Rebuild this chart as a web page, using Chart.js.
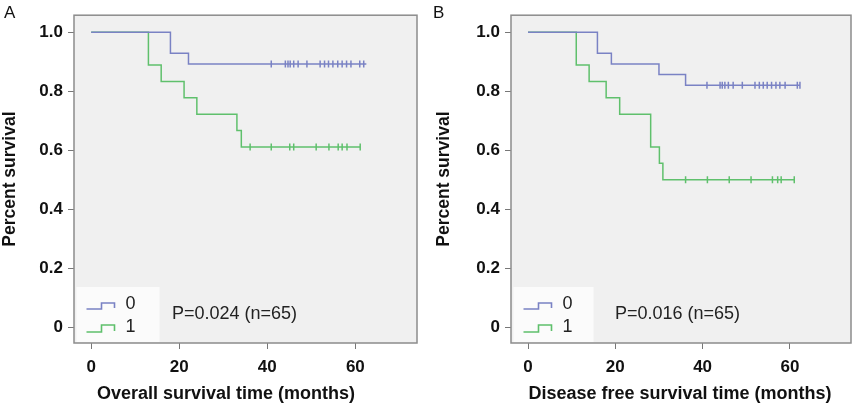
<!DOCTYPE html>
<html>
<head>
<meta charset="UTF-8" />
<title>Survival curves</title>
<script src="https://cdn.jsdelivr.net/npm/chart.js"></script>
<style>
  body { margin: 0; background: #fff; }
  .wrap { position: relative; width: 858px; height: 406px; }
  .panel { position: absolute; top: 0; width: 429px; height: 406px; }
  .tag { position: absolute; top: 3px; font: 17px "Liberation Sans", Arial, sans-serif; color: #111; }
</style>
</head>
<body>
<div class="wrap">
  <div class="panel" style="left:0"><canvas id="chartA" width="429" height="406"></canvas></div>
  <div class="panel" style="left:429px"><canvas id="chartB" width="429" height="406"></canvas></div>
  <div class="tag" style="left:4px">A</div>
  <div class="tag" style="left:433px">B</div>
</div>
<script>
// overall survival (A)
const osTime0 = [0, 18, 22.1, 62.5];
const osSurv0 = [1, 0.929, 0.893, 0.893];
const osCens0 = [40.9, 44.1, 44.7, 45.2, 46.0, 47.0, 49.0, 52.0, 53.0, 53.9, 54.9, 56.0, 57.0, 58.0, 59.0, 61.0, 61.9];
const osTime1 = [0, 13, 15.9, 21.1, 24, 33.1, 34.1, 61.1];
const osSurv1 = [1, 0.889, 0.833, 0.778, 0.722, 0.667, 0.611, 0.611];
const osCens1 = [36.1, 40.9, 45.1, 46.0, 51.1, 54.0, 56.1, 57.0, 58.1, 61.1];

// disease free survival (B)
const dfsTime0 = [0, 15.9, 19.1, 30.0, 36.1, 62.3];
const dfsSurv0 = [1, 0.929, 0.893, 0.857, 0.821, 0.821];
const dfsCens0 = [41.0, 44.0, 44.5, 45.1, 45.9, 47.0, 49.1, 52.0, 53.0, 53.9, 54.8, 55.8, 56.8, 57.7, 58.9, 61.7, 62.3];
const dfsTime1 = [0, 11.05, 14.0, 17.9, 21.0, 28.1, 30.1, 30.9, 61.0];
const dfsSurv1 = [1, 0.889, 0.833, 0.778, 0.722, 0.611, 0.556, 0.5, 0.5];
const dfsCens1 = [36.1, 41.1, 46.1, 51.1, 56.0, 57.2, 58.0, 61.0];

const groupLabels = ["0", "1"];
const xTickValues = [0, 20, 40, 60];
const yTickValues = [0, 0.2, 0.4, 0.6, 0.8, 1.0];
const yTickLabels = ["0", "0.2", "0.4", "0.6", "0.8", "1.0"];

const BLUE = "#7a82c4";
const GREEN = "#5fc06c";
const FONT = '"Liberation Sans", Arial, sans-serif';
Chart.defaults.font.family = FONT;
Chart.defaults.color = "#111";

function survAt(times, surv, t) {
  let s = surv[0];
  for (let i = 0; i < times.length; i++) if (times[i] <= t) s = surv[i];
  return s;
}

function curve(times, surv, color) {
  return {
    type: "line",
    data: times.map((t, i) => ({ x: t, y: surv[i] })),
    stepped: true,
    borderColor: color,
    borderWidth: 1.5,
    pointRadius: 0,
    fill: false,
  };
}

function censor(times, surv, cens, color) {
  return {
    type: "scatter",
    data: cens.map((t) => ({ x: t, y: survAt(times, surv, t) })),
    pointStyle: "line",
    rotation: 90,
    pointRadius: 3.5,
    borderColor: color,
    borderWidth: 1.5,
    showLine: false,
  };
}

// background, frame, legend box and p-value text
const panelPlugin = {
  id: "panel",
  beforeDatasetsDraw(chart, args, o) {
    const { ctx, chartArea: a } = chart;
    ctx.save();
    ctx.fillStyle = "#fbfbfb";
    const bx = a.left + 2.5, by = a.bottom - 56;
    ctx.fillRect(bx, by, o.boxW, 55);
    // step icons
    [[BLUE, by + 22, by + 16], [GREEN, by + 45, by + 38]].forEach(([c, lo, hi]) => {
      ctx.strokeStyle = c;
      ctx.lineWidth = 1.6;
      ctx.beginPath();
      ctx.moveTo(bx + 10, lo);
      ctx.lineTo(bx + 25, lo);
      ctx.lineTo(bx + 25, hi);
      ctx.lineTo(bx + 38, hi);
      ctx.lineTo(bx + 38, lo - 1);
      ctx.stroke();
    });
    ctx.fillStyle = "#222";
    ctx.font = "18px " + FONT;
    ctx.textBaseline = "middle";
    ctx.textAlign = "left";
    ctx.fillText(groupLabels[0], bx + 49, by + 17);
    ctx.fillText(groupLabels[1], bx + 49, by + 40);
    ctx.fillText(o.pText, o.pX, by + 27);
    ctx.restore();
  },
  beforeDraw(chart) {
    const { ctx, chartArea: a } = chart;
    ctx.save();
    ctx.fillStyle = "#f0f0f0";
    ctx.fillRect(a.left, a.top, a.width, a.height);
    ctx.restore();
  },
  afterDraw(chart, args, o) {
    const { ctx, chartArea: a } = chart;
    ctx.save();
    ctx.strokeStyle = "#8c8c8c";
    ctx.lineWidth = 1.5;
    ctx.strokeRect(a.left, a.top, a.width, a.height);
    ctx.fillStyle = "#111";
    ctx.font = "bold 18px " + FONT;
    ctx.textAlign = "center";
    ctx.textBaseline = "middle";
    ctx.fillText(o.xTitle, o.xTitleX, 394);
    ctx.restore();
  },
};

function makeChart(id, sets, opt) {
  return new Chart(document.getElementById(id), {
    data: { datasets: sets },
    plugins: [panelPlugin],
    options: {
      responsive: false,
      animation: false,
      layout: { padding: { left: opt.padLeft, right: opt.padRight, top: opt.padTop, bottom: 0 } },
      plugins: {
        legend: { display: false },
        tooltip: { enabled: false },
        panel: { boxW: opt.boxW, pText: opt.pText, pX: opt.pX, xTitle: opt.xTitle, xTitleX: opt.xTitleX },
      },
      scales: {
        x: {
          type: "linear",
          min: -3.9,
          max: 74,
          afterBuildTicks: (s) => { s.ticks = xTickValues.map((v) => ({ value: v })); },
          afterFit: (s) => { s.height = opt.xHeight; },
          ticks: { padding: 8, font: { size: 17, weight: "bold" }, color: "#111" },
          grid: { drawOnChartArea: false, tickLength: 6, color: "#777" },
          border: { display: false },
        },
        y: {
          type: "linear",
          min: -0.053,
          max: 1.058,
          afterBuildTicks: (s) => { s.ticks = yTickValues.map((v) => ({ value: v })); },
          afterFit: (s) => { s.width = opt.yWidth; },
          ticks: {
            padding: 5,
            font: { size: 17, weight: "bold" },
            color: "#111",
            callback: (v, i) => yTickLabels[i],
          },
          grid: { drawOnChartArea: false, tickLength: 6, color: "#777" },
          border: { display: false },
          title: {
            display: true,
            text: "Percent survival",
            font: { size: 17.5, weight: "bold" },
            color: "#111",
            padding: 0,
          },
        },
      },
    },
  });
}

makeChart("chartA", [
  curve(osTime0, osSurv0, BLUE),
  curve(osTime1, osSurv1, GREEN),
  censor(osTime0, osSurv0, osCens0, BLUE),
  censor(osTime1, osSurv1, osCens1, GREEN),
], {
  padLeft: 0, padRight: 12, padTop: 5, yWidth: 74, xHeight: 63,
  boxW: 83, pText: "P=0.024 (n=65)", pX: 172, xTitle: "Overall survival time (months)", xTitleX: 226,
});

makeChart("chartB", [
  curve(dfsTime0, dfsSurv0, BLUE),
  curve(dfsTime1, dfsSurv1, GREEN),
  censor(dfsTime0, dfsSurv0, dfsCens0, BLUE),
  censor(dfsTime1, dfsSurv1, dfsCens1, GREEN),
], {
  padLeft: 5, padRight: 7, padTop: 7, yWidth: 77, xHeight: 63,
  boxW: 80, pText: "P=0.016 (n=65)", pX: 186, xTitle: "Disease free survival time (months)", xTitleX: 251,
});
</script>
</body>
</html>
